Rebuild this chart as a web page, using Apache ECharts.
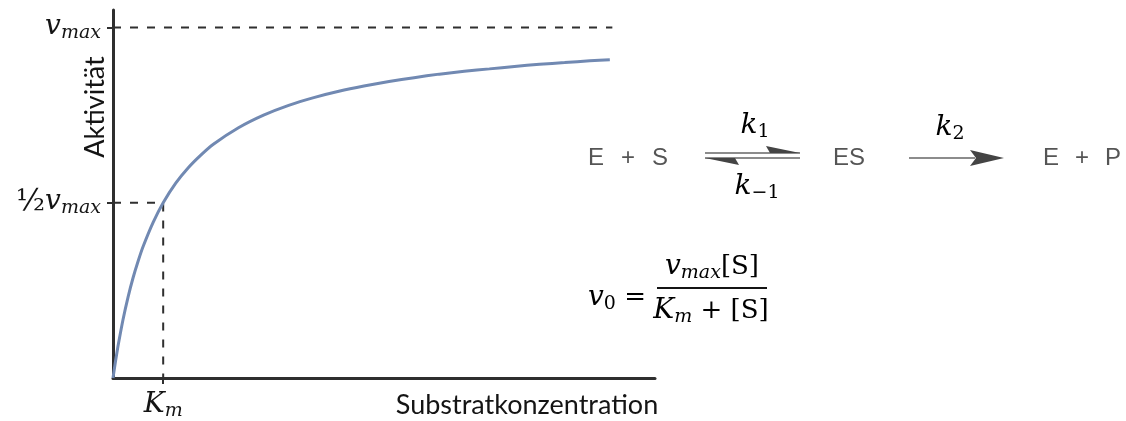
<!DOCTYPE html>
<html>
<head>
<meta charset="utf-8">
<script src="https://cdn.jsdelivr.net/npm/echarts@6/dist/echarts.min.js"></script>
<style>
  html, body { margin: 0; padding: 0; background: #fff; }
  #chart { width: 1126px; height: 421px; }
</style>
</head>
<body>
<div id="chart"></div>
<script>
// Michaelis-Menten saturation curve: substrate in units of Km, activity in units of vmax
const substrate = [0, 0.05, 0.1, 0.2, 0.3, 0.4, 0.5, 0.6, 0.8, 1.0, 1.25, 1.5, 1.75, 2.0, 2.5, 3.0, 3.5, 4.0, 4.5, 5.0, 5.5, 6.0, 6.5, 7.0, 7.5, 8.0, 8.5, 9.0, 9.5, 9.9];
const activity  = [0, 0.048, 0.091, 0.167, 0.231, 0.286, 0.333, 0.375, 0.444, 0.500, 0.556, 0.600, 0.636, 0.667, 0.714, 0.750, 0.778, 0.800, 0.818, 0.833, 0.846, 0.857, 0.867, 0.875, 0.882, 0.889, 0.895, 0.900, 0.905, 0.908];

// reference levels
const vmaxLevel = 1;
const halfLevel = 0.5;
const kmValue = 1;
const vmaxLineEnd = 9.95;

// tick labels
const yTickValues = [halfLevel, vmaxLevel];
const yTickLabels = ['{h|½}{v|v}{s|max}', '{v|v}{s|max}'];
const xTickValues = [kmValue];
const xTickLabels = ['{v|K}{s|m}'];

const mathFont = 'DejaVu Serif';
const ink = '#141414';
const axisInk = '#2f2f2f';
const schemeInk = '#555555';

// italic letters sit on the line top; subscripts are pushed down with top padding
const mathRich = {
  v: { fontFamily: mathFont, fontStyle: 'italic', fontSize: 28, color: ink, verticalAlign: 'top' },
  s: { fontFamily: mathFont, fontStyle: 'italic', fontSize: 19, color: ink, verticalAlign: 'top', padding: [11, 0, 0, 0] },
  d: { fontFamily: mathFont, fontSize: 19, color: ink, verticalAlign: 'top', padding: [11, 0, 0, 0] },
  h: { fontFamily: mathFont, fontSize: 30, color: ink, verticalAlign: 'top', padding: [-1, 0, 0, 0] },
  n: { fontFamily: mathFont, fontSize: 26, color: ink, verticalAlign: 'top', padding: [1, 0, 0, 0] }
};

const curveData = substrate.map((s, i) => [s, activity[i]]);

const chart = echarts.init(document.getElementById('chart'), null, { renderer: 'canvas' });

const schemeText = (text, x, y) => ({
  type: 'text', x, y,
  style: { text, fontFamily: 'Liberation Sans', fontSize: 24, fill: schemeInk, align: 'center', verticalAlign: 'middle' }
});
const mathText = (text, x, y, align) => ({
  type: 'text', x, y,
  style: { text, rich: mathRich, align: align || 'center', verticalAlign: 'middle' }
});

chart.setOption({
  animation: false,
  backgroundColor: '#ffffff',
  grid: { left: 113, top: 10, width: 542, height: 369 },
  xAxis: {
    type: 'value', min: 0, max: 10.8,
    splitLine: { show: false },
    axisLine: { show: true, lineStyle: { color: axisInk, width: 3 } },
    axisTick: { show: true, customValues: xTickValues, length: 6, lineStyle: { color: axisInk, width: 2 } },
    axisLabel: {
      show: true, customValues: xTickValues, margin: 13,
      formatter: (val) => xTickLabels[xTickValues.indexOf(val)] || '',
      rich: mathRich
    }
  },
  yAxis: {
    type: 'value', min: 0, max: 1.05,
    splitLine: { show: false },
    axisLine: { show: true, lineStyle: { color: axisInk, width: 3 } },
    axisTick: { show: true, customValues: yTickValues, length: 6, lineStyle: { color: axisInk, width: 2 } },
    axisLabel: {
      show: true, customValues: yTickValues, margin: 12,
      formatter: (val) => yTickLabels[yTickValues.indexOf(val)] || '',
      rich: mathRich
    }
  },
  series: [
    {
      type: 'line', data: [[0, vmaxLevel], [vmaxLineEnd, vmaxLevel]],
      symbol: 'none', silent: true,
      lineStyle: { color: axisInk, width: 2, type: [8, 9] }, z: 1
    },
    {
      type: 'line', data: [[0, halfLevel], [kmValue, halfLevel], [kmValue, 0]],
      symbol: 'none', silent: true,
      lineStyle: { color: axisInk, width: 2, type: [8, 9] }, z: 1
    },
    {
      type: 'line', data: curveData,
      smooth: 0.2,
      symbol: 'none', silent: true,
      lineStyle: { color: '#7189b2', width: 3 }, z: 3
    }
  ],
  graphic: [
    // axis titles
    {
      type: 'text', x: 95, y: 107, rotation: Math.PI / 2,
      style: { text: 'Aktivität', fontFamily: 'Lato', fontSize: 27, fill: ink, align: 'center', verticalAlign: 'middle' }
    },
    {
      type: 'text', x: 527, y: 405,
      style: { text: 'Substratkonzentration', fontFamily: 'Lato', fontSize: 27, fill: ink, align: 'center', verticalAlign: 'middle' }
    },
    // reaction scheme
    schemeText('E', 596, 158),
    schemeText('+', 628, 158),
    schemeText('S', 660, 158),
    schemeText('ES', 849, 158),
    schemeText('E', 1051, 158),
    schemeText('+', 1082, 158),
    schemeText('P', 1113, 158),
    // equilibrium arrows
    { type: 'line', shape: { x1: 705, y1: 153, x2: 800, y2: 153 }, style: { stroke: '#666', lineWidth: 1.5 } },
    { type: 'polygon', shape: { points: [[800, 153], [766, 146], [770, 153]] }, style: { fill: '#444' } },
    { type: 'line', shape: { x1: 705, y1: 158, x2: 800, y2: 158 }, style: { stroke: '#666', lineWidth: 1.5 } },
    { type: 'polygon', shape: { points: [[705, 158], [739, 165], [735, 158]] }, style: { fill: '#444' } },
    // forward arrow
    { type: 'line', shape: { x1: 909, y1: 158, x2: 975, y2: 158 }, style: { stroke: '#666', lineWidth: 1.5 } },
    { type: 'polygon', shape: { points: [[1004, 158], [970, 150], [976, 158], [970, 166]] }, style: { fill: '#444' } },
    // rate constants
    mathText('{v|k}{d|1}', 755, 127),
    mathText('{v|k}{d|−1}', 757, 188),
    mathText('{v|k}{d|2}', 950, 129),
    // rate law
    mathText('{v|v}{d|0}{n| =}', 588, 299, 'left'),
    mathText('{v|v}{s|max}{n|[S]}', 712, 268),
    { type: 'line', shape: { x1: 657, y1: 288, x2: 767, y2: 288 }, style: { stroke: ink, lineWidth: 2 } },
    mathText('{v|K}{s|m}{n| + [S]}', 711, 312)
  ]
});
</script>
</body>
</html>
